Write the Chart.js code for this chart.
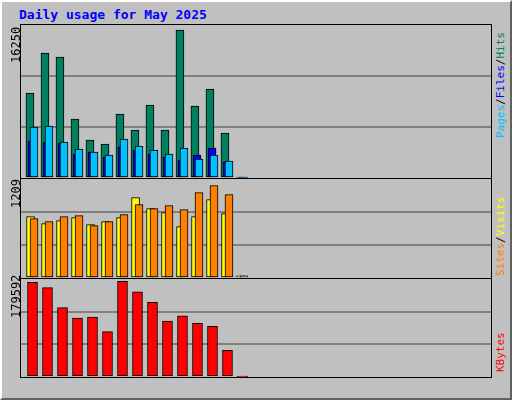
<!DOCTYPE html>
<html>
<head>
<meta charset="utf-8">
<script src="https://cdn.jsdelivr.net/npm/chart.js@4"></script>
<style>
  body { margin: 0; background: #c0c0c0; }
  #frame { position: absolute; left: 0; top: 0; width: 508px; height: 396px;
           border-left: 2px solid #fff; border-top: 2px solid #fff;
           border-right: 2px solid #606060; border-bottom: 2px solid #606060; }
  .panel { position: absolute; left: 20px; width: 470px; border: 1px solid #000; }
  .txt { position: absolute; font-family: "DejaVu Sans Mono", monospace; font-size: 12px; white-space: nowrap; }
  .rot { transform-origin: 0 0; transform: rotate(-90deg); }
  .leg { font-size: 11px; }
</style>
</head>
<body>
<div id="frame"></div>
<div class="txt" style="left:19px;top:7px;color:#0000ff;font-weight:bold;font-size:13px">Daily usage for May 2025</div>
<div class="panel" style="top:24px;height:153px"><canvas id="c1"></canvas></div>
<div class="panel" style="top:178px;height:99px"><canvas id="c2"></canvas></div>
<div class="panel" style="top:278px;height:98px"><canvas id="c3"></canvas></div>
<div class="txt rot" style="left:9px;top:63px">16250</div>
<div class="txt rot" style="left:9px;top:208px">1209</div>
<div class="txt rot" style="left:9px;top:318px">179592</div>
<div class="txt rot leg" style="left:494px;top:138px"><span style="color:#00c0ff">Pages</span>/<span style="color:#0000ff">Files</span>/<span style="color:#008060">Hits</span></div>
<div class="txt rot leg" style="left:494px;top:276px"><span style="color:#ff8000">Sites</span>/<span style="color:#ffff00">Visits</span></div>
<div class="txt rot leg" style="left:494px;top:372px;color:#ff0000">KBytes</div>
<div style="position:absolute;left:21px;top:378px;width:470px;height:20px"><canvas id="c4"></canvas></div>
<script>
const days = [1,2,3,4,5,6,7,8,9,10,11,12,13,14,15];
const allDays = Array.from({length: 31}, (_, i) => i + 1);
const weekendDays = [3,4,10,11,17,18,24,25,31];
const hits  = [9030,13280,12850,6270,4040,3610,6800,5100,7750,5100,15720,7650,9450,4780,90];
const files = [3930,3820,3720,2550,2760,2230,3290,2970,2550,2230,1910,2440,3190,1700,60];
const pages = [5420,5520,3820,3080,2760,2440,4140,3400,2970,2550,3190,2020,2440,1810,60];
const visits = [750,664,701,738,652,689,738,982,848,799,628,750,957,786,25];
const sites  = [725,689,750,762,640,689,774,896,848,884,835,1043,1128,1018,25];
const kbytes = [173270,163680,127270,108100,110020,83180,175180,156020,136850,102350,111930,98520,92770,48680,600];
const maxHits = 16250, maxVisits = 1209, maxKB = 179592;

const X_MIN = 0.133, X_MAX = 31.47;

function pts(vals, shift) {
  return days.map((d, i) => ({ x: d + shift, y: vals[i] }));
}
function ds(vals, shift, color, width, order) {
  return { data: pts(vals, shift), backgroundColor: color, borderColor: '#000', order: order,
           borderWidth: 1, barThickness: width, grouped: false, borderSkipped: false };
}
function panel(id, max, sets) {
  new Chart(document.getElementById(id), {
    type: 'bar',
    data: { datasets: sets },
    options: {
      responsive: true, maintainAspectRatio: false, animation: false,
      layout: { padding: 0 },
      plugins: { legend: { display: false }, tooltip: { enabled: false } },
      scales: {
        x: { type: 'linear', min: X_MIN, max: X_MAX, offset: false, display: false },
        y: { min: 0, max: max, display: true, border: { display: false },
             ticks: { display: false },
             afterBuildTicks: ax => { ax.ticks = [0, max / 3, 2 * max / 3, max].map(v => ({ value: v })); },
             grid: { drawTicks: false, color: c => (c.index === 1 || c.index === 2) ? '#808080' : 'rgba(0,0,0,0)', lineWidth: 2 } }
      }
    }
  });
}
panel('c1', maxHits, [
  ds(hits, -0.27, '#008060', 8, 3),
  ds(files, -0.13, '#0000ff', 8, 2),
  ds(pages, 0, '#00c0ff', 8, 1)
]);
panel('c2', maxVisits, [
  ds(visits, -0.23, '#ffff00', 8, 2),
  ds(sites, 0, '#ff8000', 8, 1)
]);
panel('c3', maxKB, [
  ds(kbytes, -0.1, '#ff0000', 10, 1)
]);

// day labels
new Chart(document.getElementById('c4'), {
  type: 'scatter',
  data: { datasets: [{ data: [] }] },
  options: {
    responsive: true, maintainAspectRatio: false, animation: false,
    layout: { padding: 0 },
    plugins: { legend: { display: false }, tooltip: { enabled: false } },
    scales: {
      x: { type: 'linear', min: X_MIN, max: X_MAX, offset: false, position: 'top',
           border: { display: false }, grid: { display: false },
           afterBuildTicks: ax => { ax.ticks = allDays.map(v => ({ value: v })); },
           ticks: { autoSkip: false, maxRotation: 0, padding: 1,
                    font: { family: 'DejaVu Sans', size: 12 },
                    color: c => weekendDays.includes(c.tick.value) ? '#008060' : '#000' } },
      y: { display: false, min: 0, max: 1 }
    }
  }
});
</script>
</body>
</html>
